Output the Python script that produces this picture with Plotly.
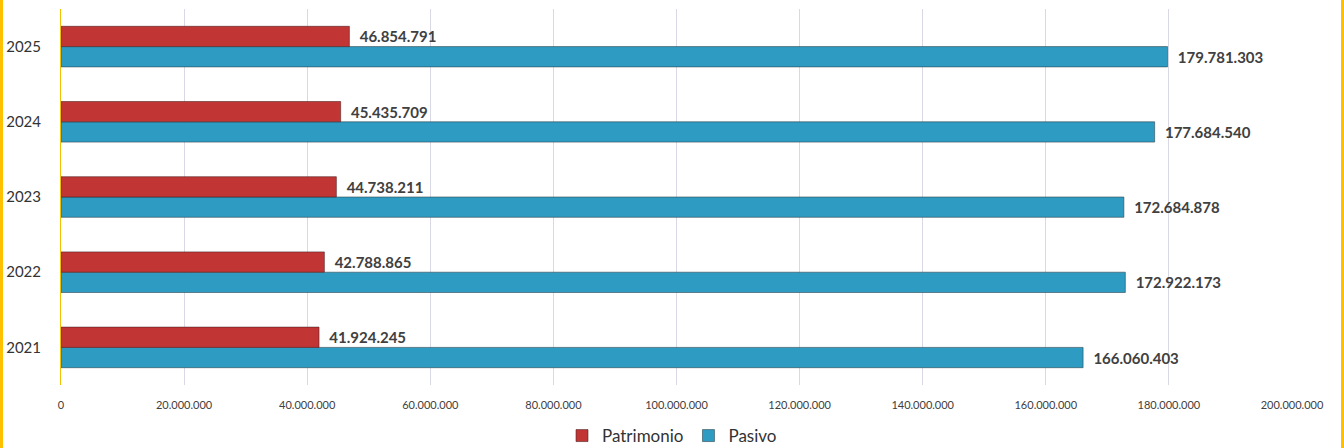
import plotly.graph_objects as go

years = ["2021", "2022", "2023", "2024", "2025"]
patrimonio = [41924245, 42788865, 44738211, 45435709, 46854791]
pasivo = [166060403, 172922173, 172684878, 177684540, 179781303]
tick_vals = [0, 20000000, 40000000, 60000000, 80000000, 100000000,
             120000000, 140000000, 160000000, 180000000, 200000000]

FONT = "Lato, 'Open Sans', sans-serif"

fig = go.Figure()
fig.add_trace(go.Bar(
    name="Pasivo", y=years, x=pasivo, orientation="h",
    marker=dict(color="#2E9CC2", line=dict(color="rgba(40,60,70,0.55)", width=1)),
    texttemplate="  %{x:,d}", textposition="outside", cliponaxis=False,
    textfont=dict(family=FONT, size=15, color="#404040", weight="bold"),
    legendrank=2,
))
fig.add_trace(go.Bar(
    name="Patrimonio", y=years, x=patrimonio, orientation="h",
    marker=dict(color="#C23535", line=dict(color="rgba(70,30,30,0.55)", width=1)),
    texttemplate="  %{x:,d}", textposition="outside", cliponaxis=False,
    textfont=dict(family=FONT, size=15, color="#404040", weight="bold"),
    legendrank=1,
))

PH = 376.0
PW = 1231.0
fig.update_layout(
    width=1344, height=448,
    margin=dict(l=61, r=52, t=9, b=63),
    paper_bgcolor="white", plot_bgcolor="white",
    separators=",.",
    barmode="group", bargap=0.46, bargroupgap=0.0,
    font=dict(family=FONT, color="#333333"),
    xaxis=dict(range=[0, 200000000], tickvals=tick_vals, tickformat=",d",
               showgrid=True, gridcolor="#D9D9E6", gridwidth=1,
               zeroline=False, showline=False, ticks="",
               tickfont=dict(size=11, color="#404040"), ticklabelstandoff=12,
               automargin=False),
    yaxis=dict(type="category", categoryorder="array", categoryarray=years,
               showgrid=False, zeroline=False, showline=True,
               linecolor="#F2C200", linewidth=1, ticks="",
               tickfont=dict(size=15, color="#333333"), ticklabelstandoff=16,
               automargin=False),
    legend=dict(orientation="h", x=0.5, xanchor="center",
                xref="container", yref="container",
                y=(448 - 436) / 448, yanchor="middle",
                font=dict(size=17, color="#333333"), itemwidth=30,
                traceorder="normal", tracegroupgap=0),
    shapes=[
        dict(type="line", xref="paper", yref="paper",
             x0=(-61 + 1.5) / PW, x1=(-61 + 1.5) / PW, y0=-63 / PH, y1=1 + 9 / PH,
             line=dict(color="#FFC000", width=3)),
        dict(type="line", xref="paper", yref="paper",
             x0=1 + 50.5 / PW, x1=1 + 50.5 / PW, y0=-63 / PH, y1=1 + 9 / PH,
             line=dict(color="#FFC000", width=3)),
    ],
)

fig.write_html("out.html")
